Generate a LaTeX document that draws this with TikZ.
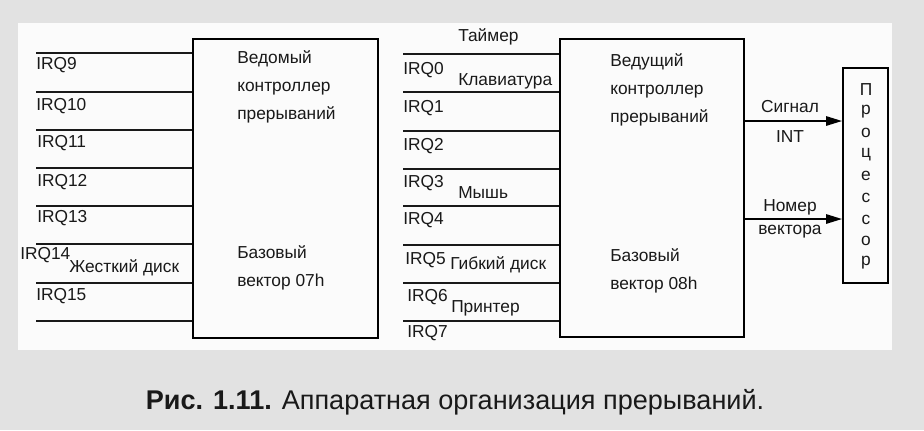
\documentclass[tikz,border=0pt]{standalone}
\usepackage{fontspec}
\setmainfont{Liberation Sans}
\usetikzlibrary{arrows.meta,positioning,calc}
\definecolor{cBack}{RGB}{226,226,226}
\definecolor{cPanel}{RGB}{251,251,251}
\definecolor{cText}{RGB}{25,25,25}
\tikzset{
  ctrlbox/.style={rectangle,draw=black,line width=1.4pt,inner sep=0pt},
  irqline/.style={line width=1.4pt,color=black!90},
  lbl/.style={anchor=west,inner sep=0pt,font=\fontsize{13}{14}\selectfont,
              text=cText},
  boxtxt/.style={anchor=north west,inner sep=0pt,align=left,
                 font=\fontsize{13}{21}\selectfont,text=cText},
  sigtxt/.style={inner sep=0pt,font=\fontsize{13}{14}\selectfont,text=cText},
  arr/.style={-{Triangle[length=12pt,width=7pt]},line width=1.4pt}
}
\begin{document}
\begin{tikzpicture}[x=0.75pt,y=-0.75pt]
  % background and panel
  \fill[cBack] (0,0) rectangle (924,430);
  \fill[cPanel] (18,23) rectangle (892,350);
  \useasboundingbox (0,0) rectangle (924,430);

  % controllers and processor
  \node[ctrlbox,minimum width=138.75pt,minimum height=224.25pt]
    (slave) at (285.5,188.5) {};
  \node[ctrlbox,minimum width=138pt,minimum height=223.5pt]
    (master) at (652,188) {};
  \node[ctrlbox,minimum width=33.75pt,minimum height=161.25pt]
    (cpu) at (865.5,175.5) {};

  % slave inputs
  \foreach \y [count=\i] in {53,92,130,168,206,244,283,321}
    \coordinate (s\i) at (36,\y);
  \foreach \i in {1,...,8}
    \draw[irqline] (s\i) -- (s\i -| slave.west);
  \node[lbl] (irq9)  at (36,65)  {IRQ9};
  \node[lbl] (irq10) at (36,106) {IRQ10};
  \node[lbl] (irq11) at (37,143) {IRQ11};
  \node[lbl] (irq12) at (37,182) {IRQ12};
  \node[lbl] (irq13) at (37,218) {IRQ13};
  \node[lbl] (irq14) at (20,255) {IRQ14};
  \node[lbl] (hdd)   at (69,268) {Жесткий диск};
  \node[lbl] (irq15) at (36,296) {IRQ15};

  % master inputs
  \foreach \y [count=\i] in {54,92,131,169,206,245,283,321}
    \coordinate (m\i) at (403,\y);
  \foreach \i in {1,...,8}
    \draw[irqline] (m\i) -- (m\i -| master.west);
  \node[lbl] (timer) at (458,37)  {Таймер};
  \node[lbl] (irq0)  at (403,70)  {IRQ0};
  \node[lbl] (kbd)   at (458,81)  {Клавиатура};
  \node[lbl] (irq1)  at (403,108) {IRQ1};
  \node[lbl] (irq2)  at (403,146) {IRQ2};
  \node[lbl] (irq3)  at (403,183) {IRQ3};
  \node[lbl] (mouse) at (458,193) {Мышь};
  \node[lbl] (irq4)  at (403,220) {IRQ4};
  \node[lbl] (irq5)  at (405,260) {IRQ5};
  \node[lbl] (fdd)   at (450,265) {Гибкий диск};
  \node[lbl] (irq6)  at (407,297) {IRQ6};
  \node[lbl] (prn)   at (451,308) {Принтер};
  \node[lbl] (irq7)  at (407,333) {IRQ7};

  % box texts
  \node[boxtxt] (slavetop) at (237,50)
    {Ведомый\\контроллер\\прерываний};
  \node[boxtxt] (slavebot) at (237,245) {Базовый\\вектор 07h};
  \node[boxtxt] (mastertop) at (610,53)
    {Ведущий\\контроллер\\прерываний};
  \node[boxtxt] (masterbot) at (610,248) {Базовый\\вектор 08h};

  % processor letters
  \foreach \c [count=\i] in {П,р,о,ц,е,с,с,о,р}
    \node[sigtxt] (cpu\i) at (866,{90+21.6*(\i-1)}) {\c};

  % signals
  \coordinate (intsrc) at (master.east |- 0,121);
  \coordinate (vecsrc) at (master.east |- 0,219);
  \draw[arr] (intsrc) -- (intsrc -| cpu.west);
  \draw[arr] (vecsrc) -- (vecsrc -| cpu.west);
  \node[sigtxt] (sig)  at (790,107) {Сигнал};
  \node[sigtxt] (int)  at (790,137) {INT};
  \node[sigtxt] (num)  at (790,207) {Номер};
  \node[sigtxt] (vect) at (790,232) {вектора};

  % caption
  \node[inner sep=0pt,font=\fontsize{20.3}{21}\selectfont,text=cText]
    (caption) at (455,402)
    {\textbf{Рис. 1.11.} Аппаратная организация прерываний.};
\end{tikzpicture}
\end{document}
